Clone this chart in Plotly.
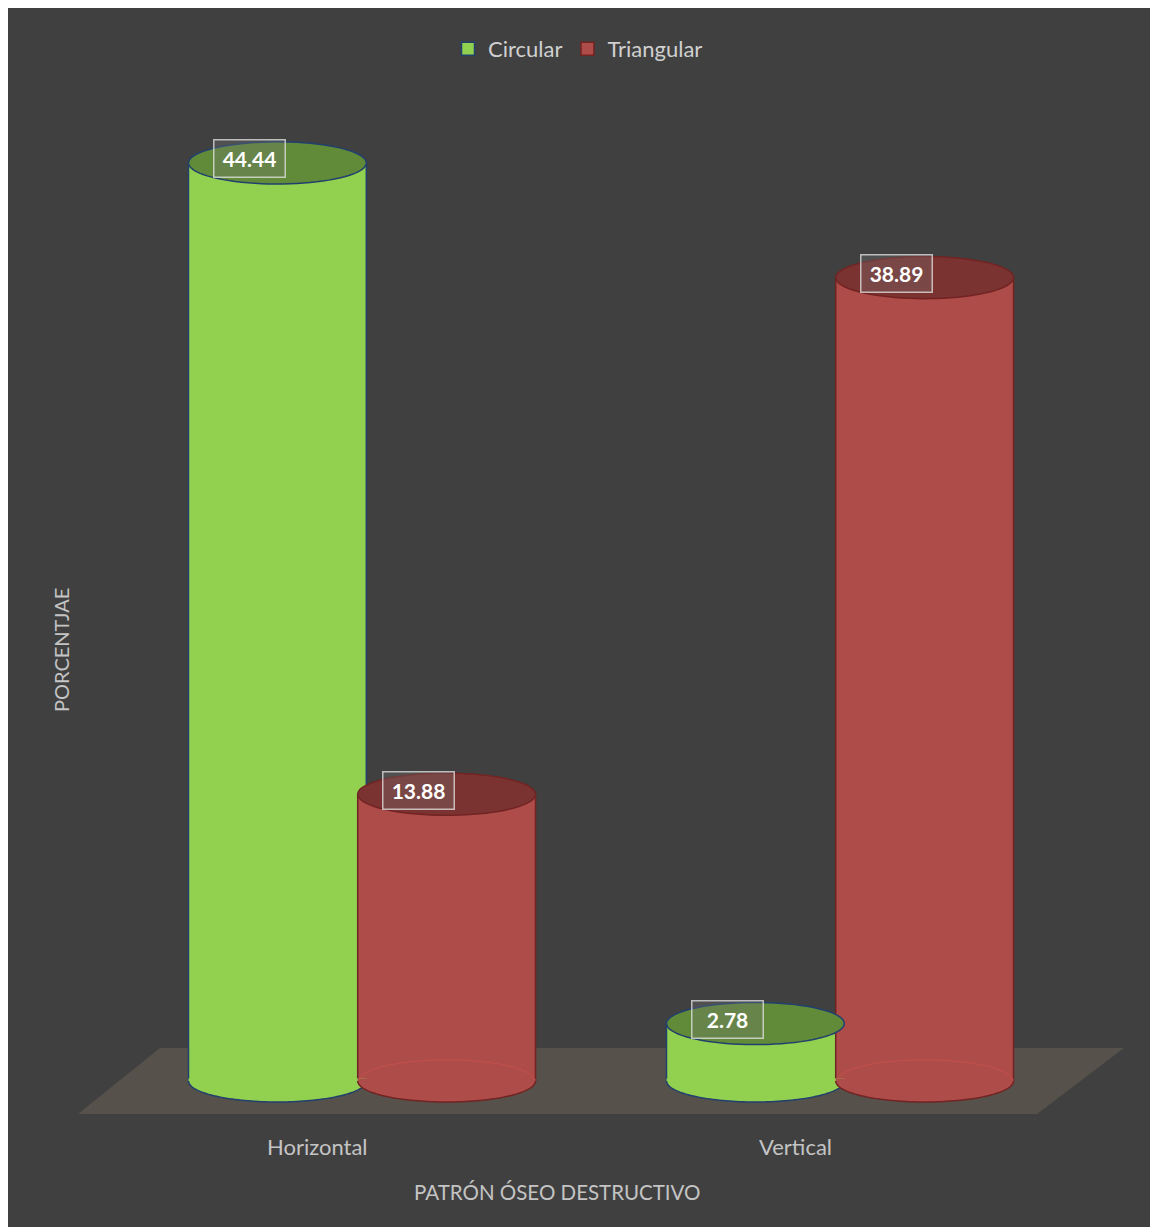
import numpy as np
import plotly.graph_objects as go

# ---------------- data ----------------
categories = ["Horizontal", "Vertical"]
series_names = ["Circular", "Triangular"]
circular = [44.44, 2.78]
triangular = [13.88, 38.89]
x_title = "PATRÓN ÓSEO DESTRUCTIVO"
y_title = "PORCENTJAE"

# ---------------- style ----------------
BG = "#404040"
FLOOR = "#56524b"
SIDE = ["#92d050", "#ad4c48"]
TOP = ["#618b38", "#7a3330"]
EDGE = ["#22406e", "#722323"]
BACK_ARC = [None, "rgba(205,80,76,0.75)"]
BAR_W = 0.372
OFFSETS = [-0.177, 0.177]
CAP_RY = 1.02          # half height of cylinder caps in value units
EPS = 0.12
LABEL_DX = -0.059
LABEL_DY = 0.2
TICK_SHIFT = -0.093
FONT = "Lato"
TXT = "#c4c4c4"

W, H = 1142, 1219
XR = [-0.7406, 1.6485]
YR = [-7.07, 51.94]

series_values = [circular, triangular]


def ellipse_pts(cx, cy, rx, ry, t0=0.0, t1=2 * np.pi, n=80):
    t = np.linspace(t0, t1, n)
    return cx + rx * np.cos(t), cy + ry * np.sin(t)


def to_path(xs, ys, close=True):
    p = "M " + " L ".join(f"{x:.5f},{y:.5f}" for x, y in zip(xs, ys))
    return p + (" Z" if close else "")


def px2paper(px, py):
    return (px - 8) / W, 1 - (py - 8) / H


fig = go.Figure()

# bar bodies
for s, name in enumerate(series_names):
    fig.add_trace(go.Bar(
        x=[i + OFFSETS[s] for i in range(len(categories))],
        y=series_values[s],
        width=BAR_W,
        name=name,
        legendgroup=name,
        showlegend=False,
        marker=dict(color=SIDE[s], line=dict(color=EDGE[s], width=1.5)),
        hoverinfo="skip",
    ))
# legend entries (square swatches like the original)
for s, name in enumerate(series_names):
    fig.add_trace(go.Scatter(
        x=[None], y=[None], mode="markers", name=name, legendgroup=name,
        marker=dict(symbol="square", size=13, color=SIDE[s],
                    line=dict(color=EDGE[s], width=1.5)),
    ))

shapes = []
floor_px = [(78, 1114), (160, 1048), (1124, 1048), (1037, 1114)]
fp = [px2paper(*p) for p in floor_px]
shapes.append(dict(type="path", xref="paper", yref="paper", layer="below",
                   path="M " + " L ".join(f"{a:.5f},{b:.5f}" for a, b in fp) + " Z",
                   fillcolor=FLOOR, line=dict(width=0)))

annotations = []
rx = BAR_W / 2
for i in range(len(categories)):
    for s in range(len(series_names)):
        v = series_values[s][i]
        cx = i + OFFSETS[s]
        # bottom cap: lower half fill (plus thin strip hiding the bar's bottom edge)
        xs, ys = ellipse_pts(cx, 0, rx, CAP_RY, np.pi, 2 * np.pi)
        xs2 = np.concatenate([xs, [cx + rx, cx - rx]])
        ys2 = np.concatenate([ys, [EPS, EPS]])
        shapes.append(dict(type="path", xref="x", yref="y", path=to_path(xs2, ys2),
                           fillcolor=SIDE[s], line=dict(width=0)))
        if BACK_ARC[s]:
            xb, yb = ellipse_pts(cx, 0, rx * 0.985, CAP_RY, 0.05, np.pi - 0.05)
            shapes.append(dict(type="path", xref="x", yref="y", path=to_path(xb, yb, False),
                               line=dict(color=BACK_ARC[s], width=1)))
        shapes.append(dict(type="path", xref="x", yref="y", path=to_path(xs, ys, False),
                           line=dict(color=EDGE[s], width=1.5)))
        # top cap
        xs, ys = ellipse_pts(cx, v, rx, CAP_RY)
        shapes.append(dict(type="path", xref="x", yref="y", path=to_path(xs, ys),
                           fillcolor=TOP[s], line=dict(color=EDGE[s], width=1.5)))
        # data label
        annotations.append(dict(
            x=cx + LABEL_DX, y=v + LABEL_DY, xref="x", yref="y",
            xanchor="center", yanchor="middle",
            text=f"{v:.2f}", showarrow=False,
            font=dict(family=FONT, size=21, color="white", weight="bold"),
            bgcolor="rgba(120,120,120,0.3)", bordercolor="rgba(230,230,230,0.75)",
            borderwidth=1.5, borderpad=6, width=58, height=24,
        ))

# category labels
for i, c in enumerate(categories):
    annotations.append(dict(x=i + TICK_SHIFT, y=px2paper(0, 1146)[1], xref="x", yref="paper",
                            xanchor="center", yanchor="middle",
                            text=c, showarrow=False,
                            font=dict(family=FONT, size=22, color=TXT)))
# axis titles
tx, ty = px2paper(557, 1192)
annotations.append(dict(x=tx, y=ty, xref="paper", yref="paper", text=x_title,
                        xanchor="center", yanchor="middle",
                        showarrow=False, font=dict(family=FONT, size=20.5, color=TXT)))
tx, ty = px2paper(61, 650)
annotations.append(dict(x=tx, y=ty, xref="paper", yref="paper", text=y_title,
                        xanchor="center", yanchor="middle",
                        textangle=-90, showarrow=False,
                        font=dict(family=FONT, size=20, color=TXT)))

lx, ly = px2paper(578, 49)
fig.update_layout(
    width=W, height=H,
    margin=dict(l=0, r=0, t=0, b=0),
    paper_bgcolor=BG, plot_bgcolor=BG,
    barmode="overlay",
    shapes=shapes,
    annotations=annotations,
    showlegend=True,
    legend=dict(orientation="h", x=lx, y=ly, xanchor="center", yanchor="middle",
                font=dict(family=FONT, size=22, color="#d0d0d0"),
                bgcolor="rgba(0,0,0,0)", itemwidth=30, itemsizing="trace"),
    xaxis=dict(range=XR, visible=False, fixedrange=True),
    yaxis=dict(range=YR, visible=False, fixedrange=True),
)

fig.write_html("out.html",
               post_script="document.body.style.margin='8px 0 0 8px';"
                           "document.body.style.overflow='hidden';")
